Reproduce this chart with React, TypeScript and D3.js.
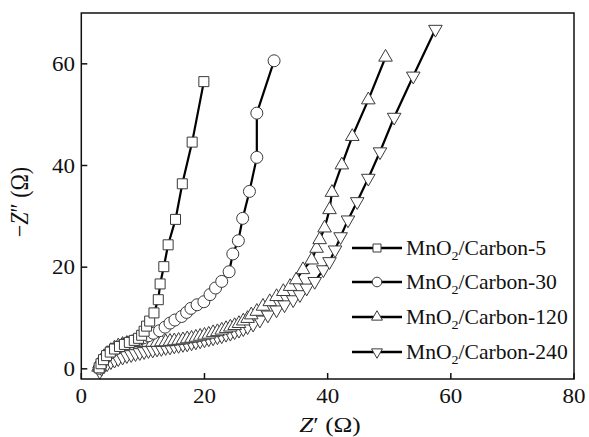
import React from "react";
import * as d3 from "d3";

// Nyquist data, [Z', -Z''] in ohm
const carbon5: [number, number][] = [
  [2.9, 0.2], [3.2, 1.0], [3.6, 1.8], [4.1, 2.6], [4.7, 3.3], [5.4, 3.9], [6.2, 4.4], [7.0, 4.8],
  [7.8, 5.2], [8.6, 5.6], [9.3, 6.0], [9.8, 6.6], [10.2, 7.4], [10.6, 8.4], [11.1, 9.4], [11.8, 11.0],
  [12.5, 13.6], [12.8, 16.7], [13.4, 20.1], [14.1, 24.4], [15.3, 29.4], [16.4, 36.4], [18.0, 44.6], [19.9, 56.5],
];

const carbon30: [number, number][] = [
  [2.9, 0.1], [3.2, 0.9], [3.6, 1.7], [4.1, 2.5], [4.7, 3.2], [5.4, 3.8], [6.1, 4.3], [6.9, 4.8],
  [7.7, 5.2], [8.5, 5.5], [9.3, 5.8], [10.1, 6.1], [10.9, 6.5], [11.7, 7.0], [12.7, 7.5], [13.6, 8.2],
  [14.4, 9.0], [15.2, 9.6], [16.3, 10.3], [17.1, 11.1], [17.8, 11.9], [18.8, 12.6], [19.9, 13.2], [20.9, 14.6],
  [21.8, 15.9], [22.8, 17.2], [24.0, 19.1], [24.6, 22.6], [25.5, 25.2], [26.2, 29.6], [27.3, 34.9], [28.5, 41.6],
  [28.5, 50.3], [31.3, 60.6],
];

const carbon120: [number, number][] = [
  [2.8, 0.3], [3.0, 1.0], [3.3, 1.7], [3.7, 2.4], [4.2, 3.0], [4.8, 3.6], [5.4, 4.1], [6.0, 4.5],
  [6.7, 4.8], [7.4, 5.0], [8.1, 5.1], [8.8, 5.2], [9.5, 5.2], [10.2, 5.2], [10.9, 5.2], [11.6, 5.2],
  [12.3, 5.2], [13.0, 5.3], [13.7, 5.3], [14.4, 5.4], [15.1, 5.5], [15.8, 5.6], [16.5, 5.7], [17.2, 5.9],
  [17.9, 6.0], [18.6, 6.2], [19.3, 6.4], [20.0, 6.6], [20.7, 6.8], [21.4, 7.1], [22.1, 7.3], [22.8, 7.6],
  [23.5, 7.9], [24.2, 8.2], [24.9, 8.5], [25.6, 8.9], [26.3, 9.4], [27.0, 9.9], [27.6, 10.6], [28.5, 11.3],
  [29.5, 12.3], [30.6, 13.2], [31.7, 14.2], [32.8, 15.2], [33.9, 16.2], [34.9, 17.5], [36.0, 19.5], [37.4, 21.4],
  [38.2, 23.7], [38.7, 25.4], [39.5, 27.7], [40.3, 31.3], [40.7, 34.7], [42.3, 40.1], [44.0, 45.7], [46.6, 52.9],
  [49.4, 61.3],
];

const carbon240: [number, number][] = [
  [3.0, -0.5], [3.3, 0.1], [3.7, 0.6], [4.2, 1.0], [4.8, 1.4], [5.4, 1.7], [6.0, 2.0], [6.7, 2.3],
  [7.4, 2.6], [8.1, 2.8], [8.8, 3.0], [9.5, 3.2], [10.2, 3.4], [10.9, 3.6], [11.6, 3.7], [12.3, 3.9],
  [13.0, 4.0], [13.7, 4.2], [14.4, 4.3], [15.1, 4.5], [15.8, 4.6], [16.5, 4.8], [17.2, 4.9], [17.9, 5.1],
  [18.6, 5.3], [19.3, 5.5], [20.0, 5.7], [20.7, 5.9], [21.4, 6.1], [22.1, 6.3], [22.8, 6.5], [23.5, 6.8],
  [24.2, 7.0], [24.9, 7.3], [25.6, 7.6], [26.3, 7.9], [27.0, 8.3], [27.9, 8.8], [29.0, 9.6], [30.3, 10.6],
  [31.7, 11.6], [33.0, 12.6], [34.4, 13.6], [35.5, 14.6], [36.6, 15.9], [37.9, 17.2], [39.3, 19.5], [40.3, 21.1],
  [41.2, 23.4], [42.1, 26.0], [43.3, 29.3], [44.8, 32.9], [46.6, 37.5], [48.5, 42.7], [50.8, 49.5], [53.9, 57.6],
  [57.5, 66.8],
];

const legendSuffixes = ["5", "30", "120", "240"];
const xTicks = [0, 20, 40, 60, 80];
const yTicks = [0, 20, 40, 60];

type Shape = "square" | "circle" | "up" | "down";
const seriesList: { data: [number, number][]; shape: Shape }[] = [
  { data: carbon5, shape: "square" },
  { data: carbon30, shape: "circle" },
  { data: carbon120, shape: "up" },
  { data: carbon240, shape: "down" },
];

const W = 589;
const H = 437;
const FONT = "'Liberation Serif', 'Times New Roman', serif";

const x = d3.scaleLinear().domain([0, 80]).range([81.3, 574]);
const y = d3.scaleLinear().domain([-2, 70]).range([379, 13]);

const symbolPath = (shape: Shape, scale: number) => {
  if (shape === "square") return d3.symbol(d3.symbolSquare, 100 * scale * scale)()!;
  if (shape === "circle") return d3.symbol(d3.symbolCircle, 113 * scale * scale)()!;
  return d3.symbol(d3.symbolTriangle, 80 * scale * scale)()!;
};

const Marker = ({ shape, cx, cy, scale = 1 }: { shape: Shape; cx: number; cy: number; scale?: number }) => (
  <path
    d={symbolPath(shape, scale)}
    transform={`translate(${cx},${cy})${shape === "down" ? " rotate(180)" : ""}`}
    fill="#fff"
    stroke="#3a3a3a"
    strokeWidth={1}
  />
);

// the source figure is a bit stretched sideways, hence the x scale on text
const SText = ({ x0, y0, size, sx = 1.15, anchor = "middle", children }: any) => (
  <text
    transform={`translate(${x0},${y0}) scale(${sx},1)`}
    fontFamily={FONT}
    fontSize={size}
    textAnchor={anchor}
    fill="#111"
  >
    {children}
  </text>
);

export default function App() {
  const line = d3
    .line<[number, number]>()
    .x((d) => x(d[0]))
    .y((d) => y(d[1]));

  const drawOrder = [...seriesList].reverse();
  const legendY = [248, 282, 317, 352];

  return (
    <svg width={W} height={H} style={{ position: "absolute", left: 0, top: 0, background: "#fff" }}>
      {/* series */}
      {drawOrder.map((s, i) => (
        <g key={`s/${i}`}>
          <path d={line(s.data)!} fill="none" stroke="#000" strokeWidth={2.2} />
          {s.data.map((d, j) => (
            <Marker key={`m/${j}`} shape={s.shape} cx={x(d[0])} cy={y(d[1])} />
          ))}
        </g>
      ))}

      {/* frame */}
      <rect x={81.3} y={13} width={574 - 81.3} height={379 - 13} fill="none" stroke="#111" strokeWidth={1.5} />

      {/* ticks */}
      {xTicks.map((t) => (
        <g key={`xt/${t}`}>
          <line x1={x(t)} x2={x(t)} y1={379} y2={373} stroke="#111" strokeWidth={1.5} />
          <SText x0={x(t)} y0={403} size={20}>{t}</SText>
        </g>
      ))}
      {yTicks.map((t) => (
        <g key={`yt/${t}`}>
          <line x1={81.3} x2={87.3} y1={y(t)} y2={y(t)} stroke="#111" strokeWidth={1.5} />
          <SText x0={75} y0={y(t) + 7} size={20} anchor="end">{t}</SText>
        </g>
      ))}

      {/* axis titles */}
      <SText x0={330} y0={432} size={22}>
        <tspan fontStyle="italic">Z</tspan>
        <tspan>′ (Ω)</tspan>
      </SText>
      <text
        transform={`translate(28,202) rotate(-90) scale(1,1.15)`}
        fontFamily={FONT}
        fontSize={22}
        textAnchor="middle"
        fill="#111"
      >
        <tspan>−</tspan>
        <tspan fontStyle="italic">Z</tspan>
        <tspan>″ (Ω)</tspan>
      </text>

      {/* legend */}
      {seriesList.map((s, i) => (
        <g key={`lg/${i}`}>
          <line x1={352} x2={402} y1={legendY[i]} y2={legendY[i]} stroke="#000" strokeWidth={2.5} />
          <Marker shape={s.shape} cx={377} cy={legendY[i]} scale={0.8} />
          <SText x0={406} y0={legendY[i] + 7} size={20} sx={1.08} anchor="start">
            <tspan>MnO</tspan>
            <tspan fontSize={13} dy={5}>2</tspan>
            <tspan dy={-5}>/Carbon-{legendSuffixes[i]}</tspan>
          </SText>
        </g>
      ))}
    </svg>
  );
}
